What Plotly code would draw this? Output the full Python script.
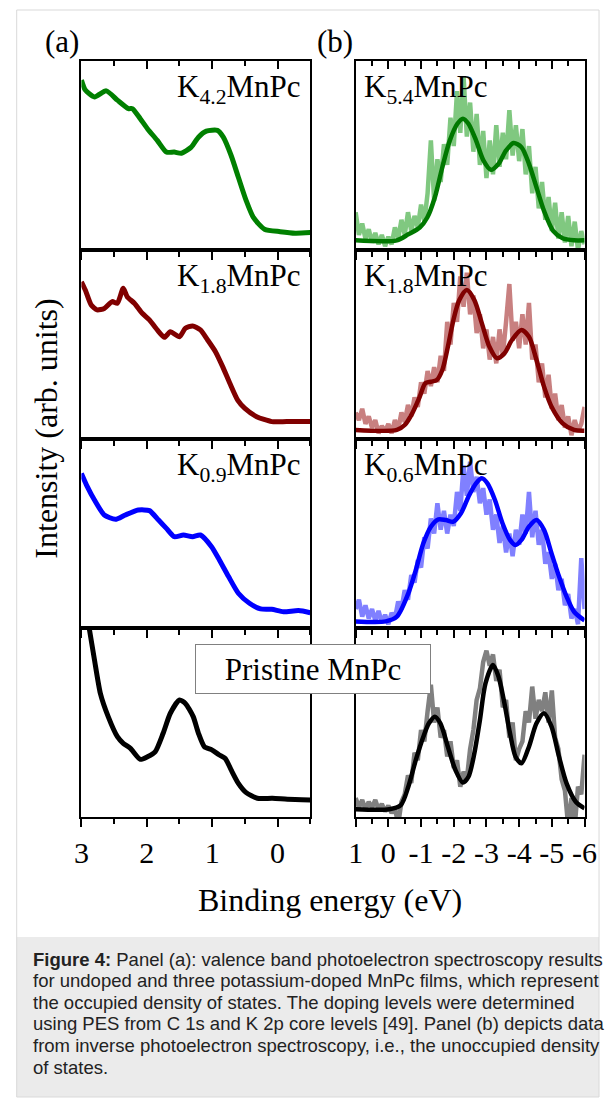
import plotly.graph_objects as go

# ---------------- data ----------------
# Panel (a): valence band PES (binding energy, eV) -> intensity (arb. units, per-panel normalised)
Ea_g = [3.0, 2.94, 2.80, 2.62, 2.45, 2.28, 2.22, 2.10, 1.99, 1.84, 1.70, 1.58, 1.47, 1.32, 1.21, 1.09, 0.92, 0.83, 0.71, 0.60, 0.48, 0.37, 0.20, -0.04, -0.27, -0.50]
Ia_g = [0.899, 0.846, 0.810, 0.842, 0.793, 0.748, 0.748, 0.695, 0.642, 0.580, 0.518, 0.518, 0.512, 0.544, 0.597, 0.629, 0.633, 0.597, 0.500, 0.385, 0.261, 0.172, 0.110, 0.097, 0.089, 0.092]

Ea_r = [3.0, 2.94, 2.85, 2.76, 2.65, 2.53, 2.45, 2.36, 2.30, 2.19, 2.07, 1.96, 1.84, 1.73, 1.64, 1.50, 1.41, 1.30, 1.18, 1.07, 0.95, 0.84, 0.73, 0.61, 0.50, 0.32, 0.09, -0.14, -0.50]
Ia_r = [0.832, 0.788, 0.709, 0.683, 0.691, 0.727, 0.718, 0.797, 0.753, 0.718, 0.665, 0.630, 0.577, 0.538, 0.568, 0.541, 0.586, 0.598, 0.577, 0.524, 0.462, 0.383, 0.295, 0.206, 0.162, 0.118, 0.092, 0.092, 0.092]

Ea_b = [3.0, 2.91, 2.80, 2.65, 2.48, 2.33, 2.13, 1.96, 1.82, 1.70, 1.58, 1.44, 1.30, 1.18, 1.01, 0.89, 0.75, 0.60, 0.43, 0.26, 0.09, -0.09, -0.32, -0.50]
Ia_b = [0.818, 0.748, 0.677, 0.598, 0.575, 0.598, 0.624, 0.621, 0.571, 0.527, 0.483, 0.492, 0.483, 0.492, 0.430, 0.360, 0.272, 0.184, 0.131, 0.101, 0.099, 0.086, 0.092, 0.081]

Ea_k = [3.0, 2.88, 2.80, 2.71, 2.59, 2.45, 2.36, 2.25, 2.10, 1.99, 1.87, 1.75, 1.64, 1.50, 1.41, 1.29, 1.21, 1.12, 1.00, 0.89, 0.80, 0.71, 0.60, 0.48, 0.31, 0.08, -0.15, -0.50]
Ia_k = [1.25, 0.998, 0.831, 0.654, 0.531, 0.425, 0.390, 0.363, 0.305, 0.319, 0.346, 0.443, 0.549, 0.619, 0.601, 0.531, 0.443, 0.372, 0.354, 0.328, 0.310, 0.249, 0.178, 0.129, 0.099, 0.099, 0.094, 0.090]

# Panel (b): inverse PES raw data (common energy grid) and smooth fits
Eb_raw = [1.0, 0.9, 0.8, 0.7, 0.6, 0.5, 0.4, 0.3, 0.2, 0.1,
          0.0, -0.1, -0.2, -0.3, -0.4, -0.5, -0.6, -0.7, -0.8, -0.9,
          -1.0, -1.1, -1.2, -1.3, -1.4, -1.5, -1.6, -1.7, -1.8, -1.9,
          -2.0, -2.1, -2.2, -2.3, -2.4, -2.5, -2.6, -2.7, -2.8, -2.9,
          -3.0, -3.1, -3.2, -3.3, -3.4, -3.5, -3.6, -3.7, -3.8, -3.9,
          -4.0, -4.1, -4.2, -4.3, -4.4, -4.5, -4.6, -4.7, -4.8, -4.9,
          -5.0, -5.1, -5.2, -5.3, -5.4, -5.5, -5.6, -5.7, -5.8, -5.9,
          -6.0]
Ib_g_raw = [0.20, 0.08, 0.14, 0.06, 0.11, 0.04, 0.09, 0.03, 0.08, 0.02,
            0.07, 0.03, 0.12, 0.06, 0.16, 0.08, 0.20, 0.10, 0.18, 0.12,
            0.24, 0.15, 0.30, 0.58, 0.26, 0.48, 0.36, 0.56, 0.45, 0.70,
            0.55, 0.84, 0.62, 0.92, 0.60, 0.78, 0.52, 0.72, 0.45, 0.63,
            0.38, 0.58, 0.40, 0.66, 0.44, 0.62, 0.48, 0.74, 0.50, 0.66,
            0.47, 0.64, 0.40, 0.55, 0.30, 0.44, 0.22, 0.36, 0.16, 0.28,
            0.10, 0.25, 0.06, 0.20, 0.04, 0.18, 0.02, 0.15, 0.00, 0.10,
            0.03]
Ib_r_raw = [0.14, 0.10, 0.16, 0.08, 0.12, 0.06, 0.10, 0.03, 0.07, 0.04,
            0.08, 0.03, 0.10, 0.05, 0.14, 0.09, 0.18, 0.12, 0.22, 0.17,
            0.30, 0.24, 0.36, 0.28, 0.38, 0.30, 0.44, 0.36, 0.62, 0.50,
            0.72, 0.62, 0.86, 0.70, 0.88, 0.66, 0.76, 0.56, 0.66, 0.48,
            0.58, 0.42, 0.54, 0.40, 0.58, 0.44, 0.62, 0.82, 0.52, 0.62,
            0.48, 0.66, 0.50, 0.72, 0.42, 0.50, 0.30, 0.40, 0.22, 0.34,
            0.16, 0.24, 0.10, 0.18, 0.06, 0.12, 0.02, 0.10, 0.04, 0.08,
            0.17]
Ib_b_raw = [0.10, 0.15, 0.06, 0.12, 0.05, 0.10, 0.04, 0.09, 0.03, 0.07,
            0.02, 0.08, 0.05, 0.14, 0.10, 0.20, 0.15, 0.28, 0.24, 0.36,
            0.32, 0.48, 0.42, 0.58, 0.50, 0.66, 0.52, 0.62, 0.50, 0.60,
            0.54, 0.72, 0.62, 0.86, 0.70, 0.88, 0.72, 0.80, 0.66, 0.74,
            0.60, 0.68, 0.52, 0.60, 0.45, 0.54, 0.40, 0.50, 0.38, 0.52,
            0.44, 0.60, 0.50, 0.72, 0.48, 0.62, 0.44, 0.52, 0.34, 0.40,
            0.26, 0.34, 0.20, 0.26, 0.12, 0.18, 0.05, 0.10, 0.02, 0.37,
            0.10]
Ib_k_raw = [0.10, 0.05, 0.09, 0.04, 0.08, 0.05, 0.09, 0.04, 0.07, 0.03,
            0.06, 0.02, 0.05, -0.04, 0.08, 0.12, 0.22, 0.18, 0.34, 0.30,
            0.46, 0.40, 0.56, 0.70, 0.50, 0.58, 0.42, 0.46, 0.32, 0.40,
            0.26, 0.30, 0.16, 0.24, 0.20, 0.36, 0.46, 0.62, 0.68, 0.82,
            0.88, 0.80, 0.86, 0.72, 0.78, 0.58, 0.62, 0.42, 0.50, 0.30,
            0.36, 0.40, 0.56, 0.50, 0.69, 0.52, 0.62, 0.56, 0.66, 0.50,
            0.67, 0.42, 0.36, 0.20, 0.14, -0.05, 0.10, -0.05, 0.16, 0.12,
            0.33]

Eb_gfit = [1.0, -0.26, -0.61, -0.96, -1.19, -1.42, -1.65, -1.88, -2.11, -2.28, -2.45, -2.68, -2.91, -3.14, -3.37, -3.60, -3.83, -4.07, -4.30, -4.53, -4.76, -5.04, -5.33, -5.68, -6.0]
Ib_gfit = [0.051, 0.051, 0.083, 0.119, 0.172, 0.278, 0.438, 0.580, 0.668, 0.695, 0.668, 0.580, 0.473, 0.424, 0.456, 0.527, 0.566, 0.544, 0.456, 0.331, 0.207, 0.101, 0.062, 0.051, 0.051]

Eb_rfit = [1.0, -0.26, -0.50, -0.73, -0.96, -1.13, -1.30, -1.48, -1.65, -1.82, -1.99, -2.17, -2.40, -2.63, -2.86, -3.09, -3.32, -3.55, -3.78, -4.07, -4.30, -4.53, -4.76, -4.99, -5.33, -5.68, -6.0]
Ib_rfit = [0.048, 0.048, 0.074, 0.136, 0.224, 0.295, 0.303, 0.312, 0.365, 0.488, 0.630, 0.735, 0.788, 0.735, 0.612, 0.488, 0.427, 0.453, 0.524, 0.577, 0.541, 0.418, 0.277, 0.171, 0.083, 0.048, 0.044]

Eb_bfit = [1.0, 0.08, -0.26, -0.61, -0.84, -1.07, -1.30, -1.53, -1.76, -1.99, -2.22, -2.45, -2.68, -2.86, -3.03, -3.26, -3.49, -3.72, -3.89, -4.07, -4.30, -4.53, -4.76, -4.99, -5.22, -5.45, -5.68, -6.0]
Ib_bfit = [0.035, 0.035, 0.060, 0.183, 0.307, 0.448, 0.536, 0.575, 0.571, 0.563, 0.607, 0.695, 0.765, 0.792, 0.765, 0.677, 0.554, 0.466, 0.439, 0.466, 0.536, 0.571, 0.519, 0.395, 0.272, 0.166, 0.086, 0.040]

Eb_kfit = [1.0, -0.03, -0.38, -0.61, -0.84, -1.07, -1.24, -1.42, -1.59, -1.82, -2.05, -2.28, -2.45, -2.63, -2.80, -2.97, -3.20, -3.37, -3.55, -3.72, -3.89, -4.07, -4.30, -4.53, -4.76, -4.99, -5.22, -5.45, -5.73, -6.0]
Ib_kfit = [0.041, 0.041, 0.063, 0.160, 0.302, 0.425, 0.496, 0.531, 0.496, 0.372, 0.249, 0.182, 0.213, 0.337, 0.513, 0.707, 0.804, 0.742, 0.601, 0.443, 0.319, 0.284, 0.372, 0.496, 0.549, 0.478, 0.319, 0.178, 0.081, 0.046]

labels_a = ["K<sub>4.2</sub>MnPc", "K<sub>1.8</sub>MnPc", "K<sub>0.9</sub>MnPc"]
labels_b = ["K<sub>5.4</sub>MnPc", "K<sub>1.8</sub>MnPc", "K<sub>0.6</sub>MnPc"]
pristine_label = "Pristine MnPc"

ticks_a_vals = [3, 2, 1, 0]
ticks_a_text = ["3", "2", "1", "0"]
ticks_b_vals = [1, 0, -1, -2, -3, -4, -5, -6]
ticks_b_text = ["1", "0", "-1", "-2", "-3", "-4", "-5", "-6"]

caption_lines = [
    "<b>Figure 4:</b> Panel (a): valence band photoelectron spectroscopy results",
    "for undoped and three potassium-doped MnPc films, which represent",
    "the occupied density of states. The doping levels were determined",
    "using PES from C 1s and K 2p core levels [49]. Panel (b) depicts data",
    "from inverse photoelectron spectroscopy, i.e., the unoccupied density",
    "of states.",
]

# ---------------- layout geometry (pixels) ----------------
W, H = 613, 1099
def fx(p):
    return p / W
def fy(p):
    return 1 - p / H

row_top = [61, 250, 439, 628]
row_bot = [250, 439, 628, 817]
col_x = [(76, 313), (360, 597)]
SERIF = "Liberation Serif"

fig = go.Figure()

colors_a = ["#008000", "#800000", "#0000ff", "#000000"]
curves_a = [(Ea_g, Ia_g), (Ea_r, Ia_r), (Ea_b, Ia_b), (Ea_k, Ia_k)]
raw_b = [Ib_g_raw, Ib_r_raw, Ib_b_raw, Ib_k_raw]
raw_colors = ["#80c880", "#c88080", "#8080ff", "#808080"]
fits_b = [(Eb_gfit, Ib_gfit), (Eb_rfit, Ib_rfit), (Eb_bfit, Ib_bfit), (Eb_kfit, Ib_kfit)]
fit_colors = ["#007800", "#800000", "#0000ff", "#000000"]

for i in range(4):
    xa, ya = f"x{i+1}", f"y{i+1}"
    fig.add_trace(go.Scatter(x=curves_a[i][0], y=curves_a[i][1], mode="lines",
                             line=dict(color=colors_a[i], width=5, shape="spline", smoothing=0.6),
                             xaxis=xa, yaxis=ya, hoverinfo="skip"))
    xb, yb = f"x{i+5}", f"y{i+5}"
    fig.add_trace(go.Scatter(x=Eb_raw, y=raw_b[i], mode="lines",
                             line=dict(color=raw_colors[i], width=4.5),
                             xaxis=xb, yaxis=yb, hoverinfo="skip"))
    fig.add_trace(go.Scatter(x=fits_b[i][0], y=fits_b[i][1], mode="lines",
                             line=dict(color=fit_colors[i], width=4.5, shape="spline", smoothing=0.8),
                             xaxis=xb, yaxis=yb, hoverinfo="skip"))

# empty traces for the top-tick overlay axes
fig.add_trace(go.Scatter(x=[None], y=[None], xaxis="x9", yaxis="y1", hoverinfo="skip"))
fig.add_trace(go.Scatter(x=[None], y=[None], xaxis="x10", yaxis="y5", hoverinfo="skip"))

layout = {}
for c in range(2):
    rng = [3, -0.5] if c == 0 else [1, -6]
    tv = ticks_a_vals if c == 0 else ticks_b_vals
    tt = ticks_a_text if c == 0 else ticks_b_text
    for r in range(4):
        n = r + 1 + 4 * c
        layout[f"xaxis{n}"] = dict(
            domain=[fx(col_x[c][0]), fx(col_x[c][1])], anchor=f"y{n}", range=rng,
            showline=True, linecolor="black", linewidth=1.5, mirror=True,
            ticks="outside", ticklen=8, tickwidth=1.5, tickcolor="black",
            tickmode="array", tickvals=tv, ticktext=tt,
            showticklabels=(r == 3), tickfont=dict(family=SERIF, size=30, color="black"),
            minor=dict(tickmode="linear", tick0=0, dtick=0.5, ticks="outside",
                       ticklen=5, tickwidth=1.5, tickcolor="black"),
            showgrid=False, zeroline=False, fixedrange=True)
        layout[f"yaxis{n}"] = dict(
            domain=[fy(row_bot[r]), fy(row_top[r])], anchor=f"x{n}", range=[0, 1],
            showline=True, linecolor="black", linewidth=1.5, mirror=True,
            ticks="", showticklabels=False, showgrid=False, zeroline=False, fixedrange=True)
    top = 9 + c
    base = 1 + 4 * c
    layout[f"xaxis{top}"] = dict(
        domain=[fx(col_x[c][0]), fx(col_x[c][1])], anchor=f"y{base}", overlaying=f"x{base}",
        side="top", range=rng, showline=False, ticks="inside", ticklen=8, tickwidth=1.5,
        tickcolor="black", tickmode="array", tickvals=tv, ticktext=tt, showticklabels=False,
        minor=dict(tickmode="linear", tick0=0, dtick=0.5, ticks="inside",
                   ticklen=5, tickwidth=1.5, tickcolor="black"),
        showgrid=False, zeroline=False, fixedrange=True)

annotations = []
for r in range(3):
    annotations.append(dict(text=labels_a[r], xref="paper", yref="paper",
                            x=fx(305), y=fy(row_top[r] + 28), xanchor="right", yanchor="middle",
                            showarrow=False, font=dict(family=SERIF, size=31, color="black")))
    annotations.append(dict(text=labels_b[r], xref="paper", yref="paper",
                            x=fx(367), y=fy(row_top[r] + 28), xanchor="left", yanchor="middle",
                            showarrow=False, font=dict(family=SERIF, size=31, color="black")))
annotations.append(dict(text=pristine_label, xref="paper", yref="paper",
                        x=fx(315.5), y=fy(668.5), xanchor="center", yanchor="middle",
                        showarrow=False, width=232, height=46, borderpad=1,
                        bgcolor="white", bordercolor="#808080", borderwidth=1,
                        font=dict(family=SERIF, size=31, color="black")))
annotations.append(dict(text="(a)", xref="paper", yref="paper", x=fx(56), y=fy(42),
                        xanchor="center", yanchor="middle", showarrow=False,
                        font=dict(family=SERIF, size=31, color="black")))
annotations.append(dict(text="(b)", xref="paper", yref="paper", x=fx(339), y=fy(42),
                        xanchor="center", yanchor="middle", showarrow=False,
                        font=dict(family=SERIF, size=31, color="black")))
annotations.append(dict(text="Binding energy (eV)", xref="paper", yref="paper",
                        x=fx(333), y=fy(900), xanchor="center", yanchor="middle",
                        showarrow=False, font=dict(family=SERIF, size=32, color="black")))
annotations.append(dict(text="Intensity (arb. units)", xref="paper", yref="paper",
                        x=fx(39), y=fy(429), xanchor="center", yanchor="middle", textangle=-90,
                        showarrow=False, font=dict(family=SERIF, size=32, color="black")))
for k, line in enumerate(caption_lines):
    annotations.append(dict(text=line, xref="paper", yref="paper",
                            x=fx(24), y=fy(959 + 21.6 * k), xanchor="left", yanchor="middle",
                            align="left", showarrow=False,
                            font=dict(family="Liberation Sans", size=18.5, color="#222222")))

shapes = [
    dict(type="rect", xref="paper", yref="paper", x0=fx(9), x1=fx(612), y0=fy(937), y1=fy(1097),
         fillcolor="#ebebeb", line=dict(width=0), layer="below"),
    dict(type="rect", xref="paper", yref="paper", x0=fx(9), x1=fx(612), y0=fy(10), y1=fy(1097),
         fillcolor="rgba(0,0,0,0)", line=dict(color="#d9d9d9", width=1), layer="below"),
]

fig.update_layout(width=W, height=H, margin=dict(l=0, r=0, t=0, b=0),
                  paper_bgcolor="white", plot_bgcolor="rgba(0,0,0,0)",
                  showlegend=False, annotations=annotations, shapes=shapes,
                  font=dict(family=SERIF, color="black"), **layout)

fig.write_html("out.html", config={"displayModeBar": False})
